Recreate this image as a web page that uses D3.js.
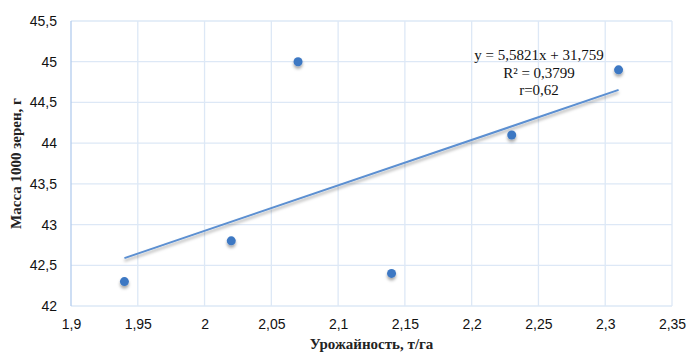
<!DOCTYPE html>
<html>
<head>
    <title>Масса 1000 зерен</title>
    <script src="https://d3js.org/d3.v7.min.js"></script>
    <style>
        body { margin: 0; background: #fff; }
        svg { font-family: "Liberation Serif", "Times New Roman", serif; }
        .grid line { stroke: #dde8f6; stroke-width: 1.3; }
        .tick text { font-size: 14px; fill: #111; }
    </style>
</head>
<body>
    <svg width="689" height="356"></svg>
    <script>
        // Scatter points
        const yieldValues = [1.94, 2.02, 2.07, 2.14, 2.23, 2.31];
        const massValues = [42.3, 42.8, 45.0, 42.4, 44.1, 44.9];

        // Axis ticks
        const xTicks = [1.9, 1.95, 2.0, 2.05, 2.1, 2.15, 2.2, 2.25, 2.3, 2.35];
        const yTicks = [42, 42.5, 43, 43.5, 44, 44.5, 45, 45.5];

        // Trend line shown on the chart
        const trendCoef = [5.5821, 31.759];
        const trendLabels = ["y = 5,5821x + 31,759", "R² = 0,3799", "r=0,62"];

        const svg = d3.select("svg"),
            margin = { top: 21, right: 17, bottom: 50, left: 71 },
            width = +svg.attr("width") - margin.left - margin.right,
            height = +svg.attr("height") - margin.top - margin.bottom,
            g = svg.append("g").attr("transform", "translate(" + margin.left + "," + margin.top + ")");

        const x = d3.scaleLinear().domain([1.9, 2.35]).range([0, width]);
        const y = d3.scaleLinear().domain([42, 45.5]).range([height, 0]);
        const fmt = d => d3.format("")(+d.toFixed(2)).replace(".", ",");

        // Grid lines
        g.append("g")
            .attr("class", "grid")
            .selectAll("line.h")
            .data(yTicks)
            .join("line")
            .attr("x1", 0).attr("x2", width)
            .attr("y1", d => y(d)).attr("y2", d => y(d));

        g.append("g")
            .attr("class", "grid")
            .selectAll("line.v")
            .data(xTicks)
            .join("line")
            .attr("x1", d => x(d)).attr("x2", d => x(d))
            .attr("y1", 0).attr("y2", height)
            .style("stroke", d => d === 1.9 ? "#b3cdee" : null);

        // Axes (labels only)
        const xAxis = g.append("g")
            .attr("transform", "translate(0," + height + ")")
            .call(d3.axisBottom(x).tickValues(xTicks).tickSize(0).tickPadding(13).tickFormat(fmt));
        xAxis.select(".domain").remove();

        const yAxis = g.append("g")
            .call(d3.axisLeft(y).tickValues(yTicks).tickSize(0).tickPadding(14).tickFormat(fmt));
        yAxis.select(".domain").remove();

        // Shadow filter for markers and line
        const defs = svg.append("defs");
        const f = defs.append("filter").attr("id", "shadow")
            .attr("x", "-50%").attr("y", "-50%").attr("width", "200%").attr("height", "250%");
        f.append("feDropShadow")
            .attr("dx", 0).attr("dy", 2.5).attr("stdDeviation", 1.6)
            .attr("flood-color", "#000").attr("flood-opacity", 0.35);

        // Trend line
        const xMin = d3.min(yieldValues), xMax = d3.max(yieldValues);
        g.append("line")
            .attr("x1", x(xMin)).attr("y1", y(trendCoef[0] * xMin + trendCoef[1]))
            .attr("x2", x(xMax)).attr("y2", y(trendCoef[0] * xMax + trendCoef[1]))
            .attr("stroke", "#5b8fd1")
            .attr("stroke-width", 2)
            .attr("filter", "url(#shadow)");

        // Points
        g.selectAll("circle")
            .data(yieldValues.map((v, i) => ({ x: v, y: massValues[i] })))
            .join("circle")
            .attr("cx", d => x(d.x))
            .attr("cy", d => y(d.y))
            .attr("r", 4.5)
            .attr("fill", "#3d78c3")
            .attr("filter", "url(#shadow)");

        // Equation label
        g.append("text")
            .attr("x", 468)
            .attr("y", 39)
            .attr("text-anchor", "middle")
            .style("font-size", "15px")
            .style("fill", "#111")
            .selectAll("tspan")
            .data(trendLabels)
            .join("tspan")
            .attr("x", 468)
            .attr("dy", (d, i) => i === 0 ? 0 : 17.5)
            .text(d => d);

        // Axis titles
        svg.append("text")
            .attr("x", margin.left + width / 2)
            .attr("y", 349)
            .attr("text-anchor", "middle")
            .style("font-size", "15px")
            .style("font-weight", "bold")
            .style("fill", "#222")
            .text("Урожайность, т/га");

        svg.append("text")
            .attr("transform", "translate(21," + (margin.top + height / 2) + ") rotate(-90)")
            .attr("text-anchor", "middle")
            .style("font-size", "15px")
            .style("font-weight", "bold")
            .style("fill", "#222")
            .text("Масса 1000 зерен, г");
    </script>
</body>
</html>
